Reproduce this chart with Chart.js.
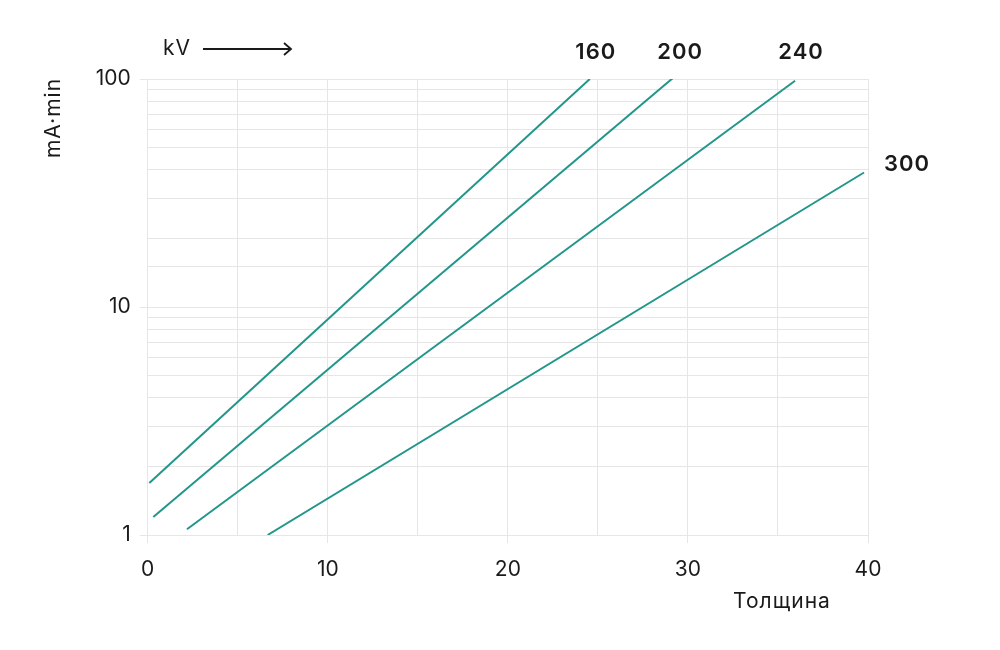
<!DOCTYPE html>
<html>
<head>
<meta charset="utf-8">
<script src="https://cdn.jsdelivr.net/npm/chart.js@4"></script>
<style>
  html, body { margin: 0; padding: 0; background: #fff; }
  #wrap { width: 1000px; height: 650px; }
</style>
</head>
<body>
<div id="wrap"><canvas id="doseChart" width="1000" height="650"></canvas></div>
<script>
// kV series: start / end points (x = thickness, y = mA·min)
const voltages = ['160', '200', '240', '300'];
const xStart = [0.09, 0.31, 2.18, 6.66];
const yStart = [1.69, 1.20, 1.06, 1.0];
const xEnd = [24.55, 29.23, 35.95, 39.78];
const yEnd = [100, 102, 98.3, 38.9];

const xTicksShown = [0, 10, 20, 30, 40];
const yTicksShown = [1, 10, 100];

const lineColor = '#22968a';
const gridColor = '#e6e6e6';
const textColor = '#1a1a1a';
const fontFamily = 'Inter, "Noto Sans", sans-serif';

const datasets = voltages.map((kv, i) => ({
  label: kv,
  data: [{ x: xStart[i], y: yStart[i] }, { x: xEnd[i], y: yEnd[i] }],
  borderColor: lineColor,
  backgroundColor: lineColor,
  borderWidth: 2,
  pointRadius: 0,
  fill: false,
  tension: 0
}));

// labels, arrow and axis titles
const annotations = {
  id: 'annotations',
  afterDraw(chart) {
    const ctx = chart.ctx;
    ctx.save();
    ctx.fillStyle = textColor;
    ctx.strokeStyle = textColor;
    ctx.letterSpacing = '1px';

    // "kV ->"
    ctx.font = '21px ' + fontFamily;
    ctx.textAlign = 'left';
    ctx.textBaseline = 'middle';
    ctx.fillText('kV', 163, 49);
    ctx.lineWidth = 1.8;
    ctx.beginPath();
    ctx.moveTo(203, 49);
    ctx.lineTo(291, 49);
    ctx.moveTo(284, 43);
    ctx.lineTo(291, 49);
    ctx.lineTo(284, 55);
    ctx.stroke();

    // series end labels
    const xs = chart.scales.x, ys = chart.scales.y;
    ctx.font = '600 22px ' + fontFamily;
    ctx.textAlign = 'center';
    voltages.forEach((kv, i) => {
      let px = xs.getPixelForValue(xEnd[i]);
      let py = ys.getPixelForValue(yEnd[i]);
      if (yEnd[i] >= 90) {
        ctx.fillText(kv, px + 6, 52);
      } else {
        ctx.fillText(kv, px + 43, py - 8);
      }
    });

    // axis titles
    ctx.font = '21px ' + fontFamily;
    ctx.textAlign = 'center';
    ctx.fillText('Толщина', 782, 602);
    ctx.translate(54, 118);
    ctx.rotate(-Math.PI / 2);
    ctx.fillText('mA·min', 0, 0);
    ctx.restore();
  }
};

new Chart(document.getElementById('doseChart'), {
  type: 'line',
  data: { datasets },
  plugins: [annotations],
  options: {
    responsive: false,
    animation: false,
    layout: { padding: { top: 79, right: 132, left: 0, bottom: 0 } },
    plugins: {
      legend: { display: false },
      tooltip: { enabled: false }
    },
    scales: {
      x: {
        type: 'linear',
        min: 0,
        max: 40,
        afterFit(scale) { scale.height = 115; },
        grid: {
          color: gridColor,
          lineWidth: 1,
          tickLength: 8,
          tickColor: (c) => xTicksShown.includes(c.tick.value) ? gridColor : 'rgba(0,0,0,0)'
        },
        border: { color: gridColor },
        ticks: {
          stepSize: 5,
          padding: 14,
          color: textColor,
          font: { family: fontFamily, size: 21 },
          callback: (v) => xTicksShown.includes(v) ? String(v) : ''
        }
      },
      y: {
        type: 'logarithmic',
        min: 1,
        max: 100,
        afterFit(scale) { scale.width = 147.7; },
        grid: {
          color: gridColor,
          lineWidth: 1,
          tickLength: 8,
          tickColor: (c) => yTicksShown.includes(c.tick.value) ? gridColor : 'rgba(0,0,0,0)'
        },
        border: { color: gridColor },
        ticks: {
          autoSkip: false,
          padding: 9,
          color: textColor,
          font: { family: fontFamily, size: 21 },
          callback: (v) => yTicksShown.includes(v) ? String(v) : ''
        }
      }
    }
  }
});
</script>
</body>
</html>
